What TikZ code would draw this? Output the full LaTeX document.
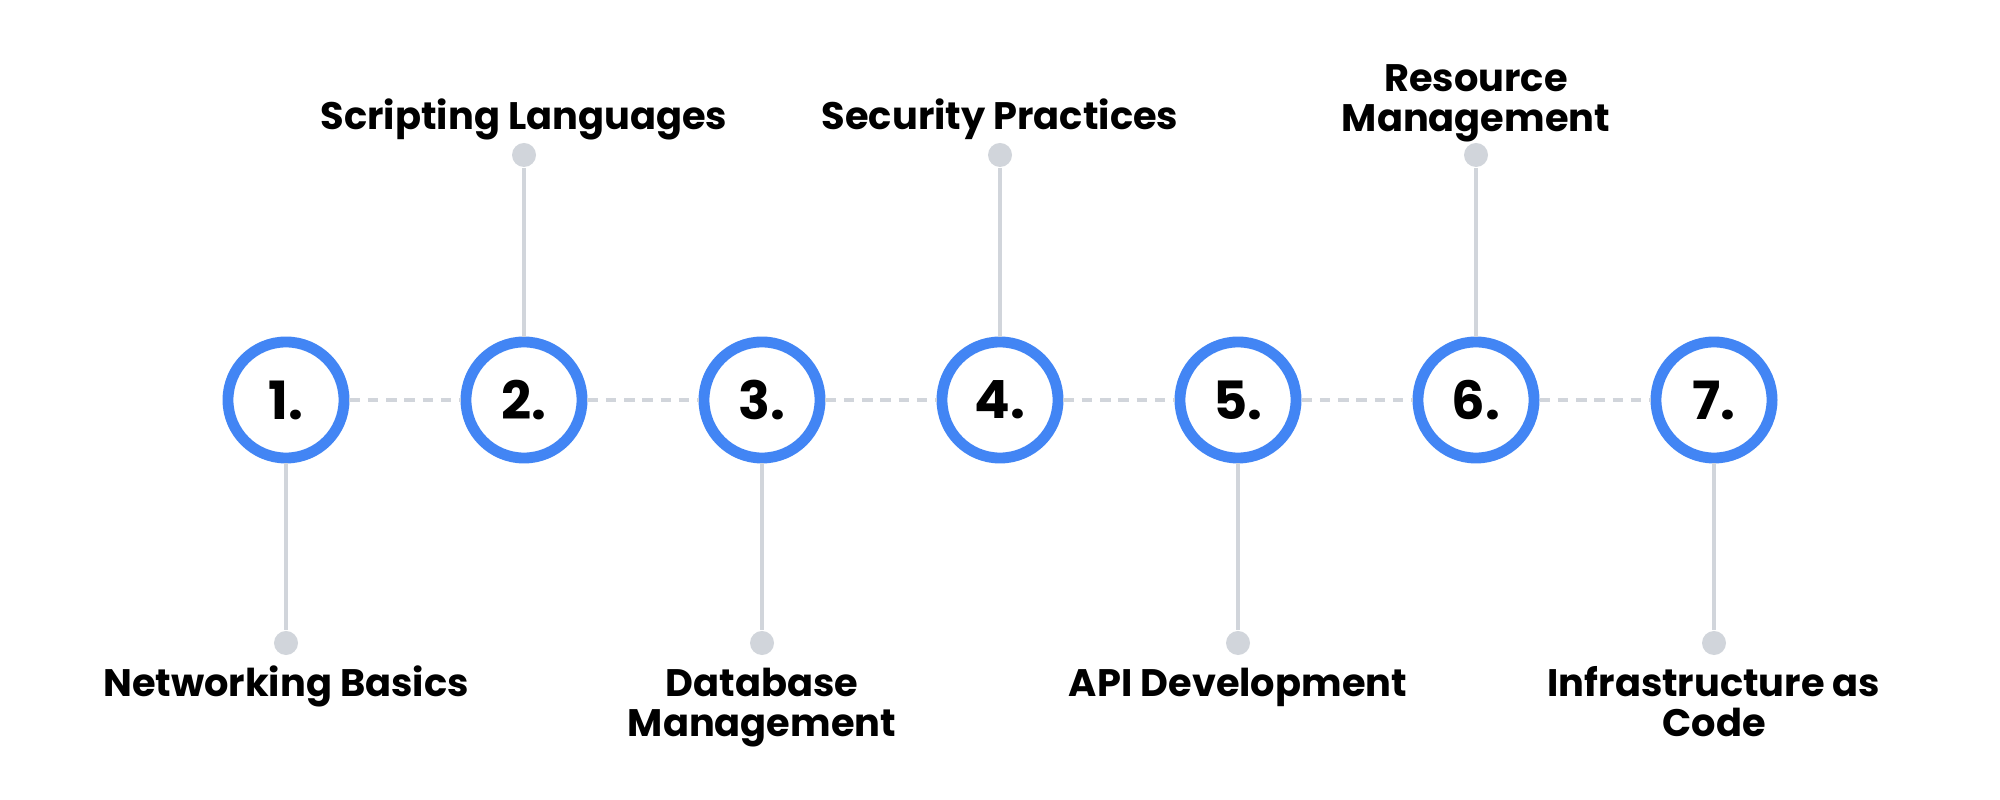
\documentclass[tikz,border=0pt]{standalone}
\usepackage{fontspec}
\setmainfont{Poppins}
\usepackage{tikz}
\definecolor{ringblue}{HTML}{4285F4}
\definecolor{stemgray}{HTML}{D1D5DB}
\tikzstyle{ring} = [circle, minimum size=1.16cm, inner sep=0, draw=ringblue, line width=3.1pt, fill=white, font=\fontsize{15pt}{15pt}\selectfont\bfseries]
\tikzstyle{dot} = [circle, minimum size=0.24cm, inner sep=0, fill=stemgray]
\tikzstyle{skill} = [align=center, inner sep=0, anchor=base, font=\fontsize{10.9pt}{11.4pt}\selectfont\bfseries]
\tikzstyle{stem} = [stemgray, line width=1.1pt]
\tikzstyle{link} = [stemgray, line width=1pt, dash pattern=on 3pt off 2.2pt]

\begin{document}
\begin{tikzpicture}[x=0.01cm, y=0.01cm]
\useasboundingbox (0,0) rectangle (2000,800);

% Steps
\node (c1) [ring] at (286,400) {1.};
\node (c2) [ring] at (524,400) {2.};
\node (c3) [ring] at (762,400) {3.};
\node (c4) [ring] at (1000,400) {4.};
\node (c5) [ring] at (1238,400) {5.};
\node (c6) [ring] at (1476,400) {6.};
\node (c7) [ring] at (1714,400) {7.};

% Dots
\node (d1) [dot] at (286,157) {};
\node (d2) [dot] at (524,645) {};
\node (d3) [dot] at (762,157) {};
\node (d4) [dot] at (1000,645) {};
\node (d5) [dot] at (1238,157) {};
\node (d6) [dot] at (1476,645) {};
\node (d7) [dot] at (1714,157) {};

% Labels (base = last line)
\node (l1) [skill] at (286,103) {Networking Basics};
\node (l2) [skill] at (524,670) {Scripting Languages};
\node (l3) [skill] at (762,63) {Database\\Management};
\node (l4) [skill] at (1000,670) {Security Practices};
\node (l5) [skill] at (1238,103) {API Development};
\node (l6) [skill] at (1476,668) {Resource\\Management};
\node (l7) [skill] at (1714,63) {Infrastructure as\\Code};

% Lines
\draw [link] (c1) -- (c2);
\draw [link] (c2) -- (c3);
\draw [link] (c3) -- (c4);
\draw [link] (c4) -- (c5);
\draw [link] (c5) -- (c6);
\draw [link] (c6) -- (c7);
\draw [stem] (c1) -- (d1);
\draw [stem] (c2) -- (d2);
\draw [stem] (c3) -- (d3);
\draw [stem] (c4) -- (d4);
\draw [stem] (c5) -- (d5);
\draw [stem] (c6) -- (d6);
\draw [stem] (c7) -- (d7);

\end{tikzpicture}
\end{document}
